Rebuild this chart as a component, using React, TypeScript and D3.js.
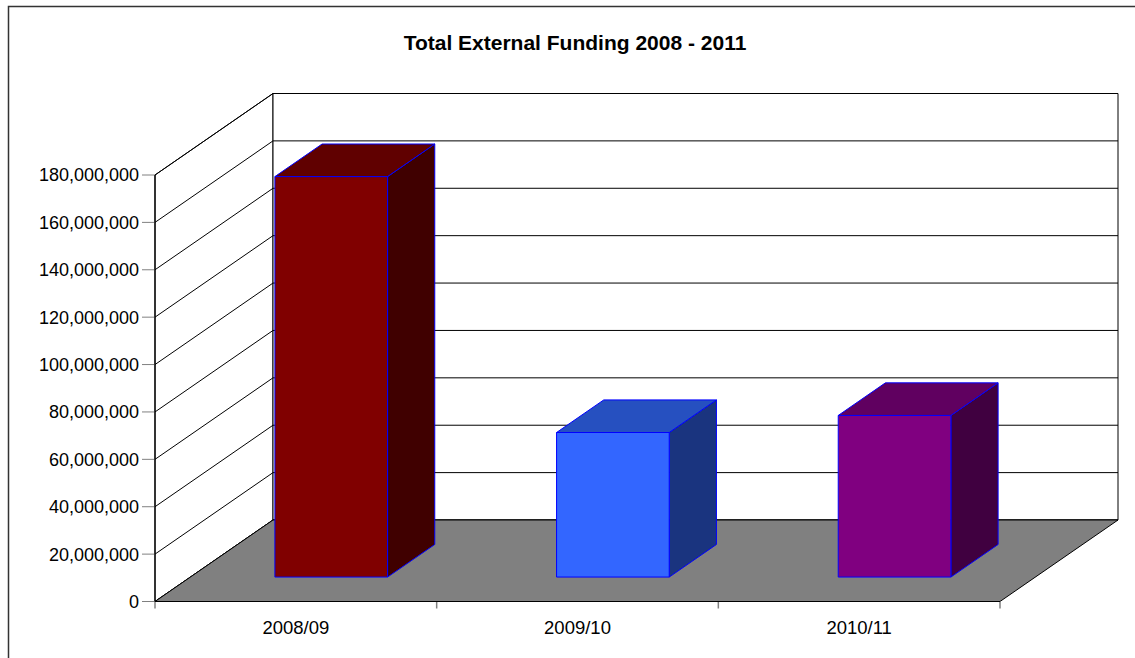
import React from "react";
import * as d3 from "d3";

const categories = ["2008/09", "2009/10", "2010/11"];
const values = [169000000, 61000000, 68200000];
const yTicks = [0, 20000000, 40000000, 60000000, 80000000, 100000000, 120000000, 140000000, 160000000, 180000000];
const title = "Total External Funding 2008 - 2011";
const frontColors = ["#800000", "#3366FF", "#800080"];
const topColors = ["#600000", "#2650C0", "#600060"];
const sideColors = ["#400000", "#1A347F", "#400040"];

const W = 1135;
const H = 658;
const x0 = 155;
const x1 = 1000;
const baseY = 601.5;
const depthDX = 118;
const depthDY = 81.5;
const zFront = 0.3;
const zBack = 0.7;

export default function App() {
  const yH = d3.scaleLinear().domain([0, 180000000]).range([0, 426.5]);
  const xb = d3.scaleBand<string>().domain(categories).range([x0, x1]).paddingInner(0.6).paddingOuter(0.3);
  const xc = d3.scaleBand<string>().domain(categories).range([x0, x1]).padding(0);
  const P = (x: number, v: number, z: number): [number, number] => [x + z * depthDX, baseY - yH(v) - z * depthDY];
  const poly = (pts: [number, number][]) => pts.map((p) => p.join(",")).join(" ");
  const fmt = d3.format(",");
  const top = 180000000;

  return (
    <svg width={W} height={H} style={{ position: "absolute", left: 0, top: 0, background: "#fff" }} fontFamily="Liberation Sans, Arial, sans-serif">
      <rect x={8.5} y={6.5} width={1300} height={800} fill="#fff" stroke="#333" strokeWidth={1.5} />
      <text x={575} y={50} textAnchor="middle" fontSize={21} fontWeight="bold">{title}</text>
      {/* left wall */}
      <polygon points={poly([P(x0, 0, 0), P(x0, top, 0), P(x0, top, 1), P(x0, 0, 1)])} fill="#fff" stroke="#000" strokeWidth={1} />
      {/* back wall */}
      <polygon points={poly([P(x0, 0, 1), P(x0, top, 1), P(x1, top, 1), P(x1, 0, 1)])} fill="#fff" stroke="#000" strokeWidth={1} />
      {yTicks.map((t) => {
        const a = P(x0, t, 0);
        const b = P(x0, t, 1);
        const c = P(x1, t, 1);
        return (
          <g key={t}>
            <line x1={a[0]} y1={a[1]} x2={b[0]} y2={b[1]} stroke="#000" strokeWidth={1} />
            <line x1={b[0]} y1={b[1]} x2={c[0]} y2={c[1]} stroke="#000" strokeWidth={1} />
            <line x1={a[0] - 13} y1={a[1]} x2={a[0]} y2={a[1]} stroke="#808080" strokeWidth={1} />
            <text x={a[0] - 16} y={a[1]} dy="0.36em" textAnchor="end" fontSize={18} fill="#000">{fmt(t)}</text>
          </g>
        );
      })}
      {/* floor */}
      <polygon points={poly([P(x0, 0, 0), P(x1, 0, 0), P(x1, 0, 1), P(x0, 0, 1)])} fill="#808080" stroke="#000" strokeWidth={1} />
      {/* category ticks */}
      {[x0, ...categories.map((c) => (xc(c) as number) + xc.bandwidth())].map((x, i) => (
        <line key={i} x1={x} y1={baseY} x2={x} y2={baseY + 7} stroke="#808080" strokeWidth={1.5} />
      ))}
      <line x1={x0} y1={baseY} x2={x1} y2={baseY} stroke="#000" strokeWidth={1.2} />
      <line x1={x0} y1={baseY} x2={x0} y2={baseY - yH(top)} stroke="#000" strokeWidth={1.2} />
      {categories.map((c) => (
        <text key={c} x={(xc(c) as number) + xc.bandwidth() / 2} y={634} textAnchor="middle" fontSize={18.5}>{c}</text>
      ))}
      {/* bars */}
      {categories.map((c, i) => {
        const l = xb(c) as number;
        const r = l + xb.bandwidth();
        const v = values[i];
        const front = [P(l, 0, zFront), P(l, v, zFront), P(r, v, zFront), P(r, 0, zFront)] as [number, number][];
        const topF = [P(l, v, zFront), P(l, v, zBack), P(r, v, zBack), P(r, v, zFront)] as [number, number][];
        const side = [P(r, 0, zFront), P(r, v, zFront), P(r, v, zBack), P(r, 0, zBack)] as [number, number][];
        return (
          <g key={c} stroke="#0000FF" strokeWidth={1} strokeLinejoin="round">
            <polygon points={poly(side)} fill={sideColors[i]} />
            <polygon points={poly(topF)} fill={topColors[i]} />
            <polygon points={poly(front)} fill={frontColors[i]} />
          </g>
        );
      })}
    </svg>
  );
}
